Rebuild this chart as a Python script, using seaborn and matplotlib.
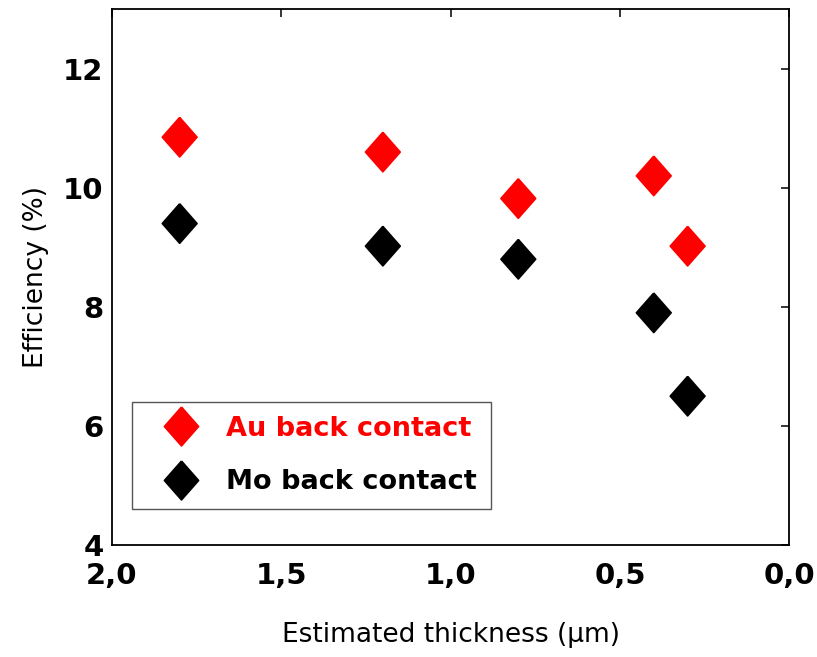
import matplotlib
matplotlib.use("Agg")
import matplotlib.pyplot as plt
from matplotlib.markers import MarkerStyle
from matplotlib.ticker import FuncFormatter, MultipleLocator
from matplotlib.lines import Line2D
import seaborn as sns
import pandas as pd

# Data
thickness = [1.8, 1.2, 0.8, 0.4, 0.3]
au_eff = [10.85, 10.6, 9.82, 10.2, 9.02]
mo_eff = [9.4, 9.02, 8.8, 7.9, 6.5]
series_names = ["Au back contact", "Mo back contact"]
series_colors = ["#ff0000", "#000000"]

df = pd.DataFrame({
    "x": thickness + thickness,
    "y": au_eff + mo_eff,
    "series": [series_names[0]] * len(thickness) + [series_names[1]] * len(thickness),
})

sns.set_theme(style="white")
plt.rcParams["font.family"] = ["DejaVu Sans"]

fig = plt.figure(figsize=(8.17, 6.57), dpi=100)
ax = fig.add_axes([0.137, 0.1705, 0.829, 0.8155])

verts = [(0, 1), (0.88, 0), (0, -1), (-0.88, 0), (0, 1)]
diamond = MarkerStyle(verts, joinstyle="round")

sns.scatterplot(data=df, x="x", y="y", hue="series", hue_order=series_names,
                palette=dict(zip(series_names, series_colors)),
                marker=diamond, s=810, edgecolor="face", linewidth=1.2, ax=ax, legend=False)

ax.set_xlim(2.0, 0.0)
ax.set_ylim(4, 13)
ax.xaxis.set_major_locator(MultipleLocator(0.5))
ax.yaxis.set_major_locator(MultipleLocator(2))
ax.xaxis.set_major_formatter(FuncFormatter(lambda v, p: f"{v:.1f}".replace(".", ",")))
ax.yaxis.set_major_formatter(FuncFormatter(lambda v, p: f"{v:.0f}"))

ax.tick_params(direction="in", length=6, width=1.1, top=True, right=True,
               labelsize=21, colors="black")
ax.tick_params(axis="x", pad=12)
ax.tick_params(axis="y", pad=6)
for lab in ax.get_xticklabels() + ax.get_yticklabels():
    lab.set_fontweight("bold")
for sp in ax.spines.values():
    sp.set_visible(True)
    sp.set_color("black")
    sp.set_linewidth(1.3)

ax.set_xlabel("Estimated thickness (\u03bcm)", fontsize=19, labelpad=23, color="black")
ax.set_ylabel("Efficiency (%)", fontsize=19, labelpad=10, color="black")

handles = [Line2D([], [], linestyle="none", marker=diamond, markersize=28,
                  markerfacecolor=c, markeredgecolor=c, markeredgewidth=1.2)
           for c in series_colors]
leg = ax.legend(handles, series_names, loc="lower left", bbox_to_anchor=(0.0295, 0.067),
                frameon=True, fancybox=False, edgecolor="#555555", framealpha=1,
                prop={"size": 19.5, "weight": "bold"}, handletextpad=0.35,
                labelspacing=1.0, borderpad=0.52, handlelength=2.6, borderaxespad=0)
leg.get_frame().set_linewidth(1.0)
for t, c in zip(leg.get_texts(), series_colors):
    t.set_color(c)

fig.savefig("out.png", dpi=100)
